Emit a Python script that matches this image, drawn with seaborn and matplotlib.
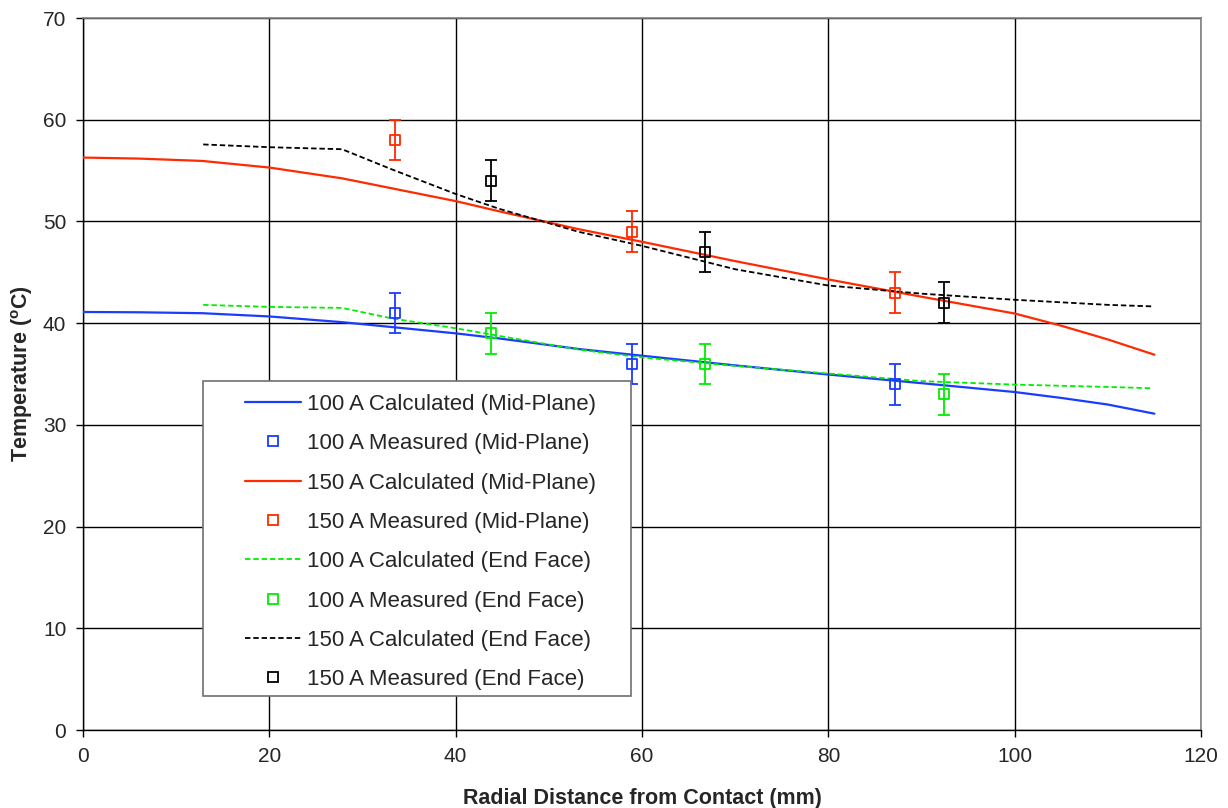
import matplotlib
matplotlib.use("Agg")
import matplotlib.pyplot as plt
from matplotlib.patches import Rectangle
import seaborn as sns
import pandas as pd

# calculated curves
x_mid = [0, 6, 12.8, 20, 27.8, 40, 44.65, 53.2, 60, 70, 80, 90, 100, 105, 110, 115]
t100_mid = [41.1, 41.07, 40.98, 40.66, 40.1, 39.0, 38.5, 37.46, 36.8, 35.85, 34.95, 34.1, 33.23, 32.65, 32.0, 31.1]
t150_mid = [56.28, 56.18, 55.95, 55.3, 54.24, 52.0, 51.0, 49.24, 48.0, 46.1, 44.3, 42.6, 40.95, 39.75, 38.4, 36.9]

x_end = [12.9, 20, 27.8, 33.2, 40, 44.65, 53.2, 60, 70, 80, 90, 100, 110, 114.8]
t100_end = [41.8, 41.6, 41.5, 40.46, 39.5, 38.75, 37.4, 36.63, 35.8, 35.05, 34.3, 33.96, 33.73, 33.6]
t150_end = [57.57, 57.3, 57.1, 55.1, 52.7, 51.25, 48.98, 47.6, 45.3, 43.7, 42.9, 42.3, 41.8, 41.65]

# measured points, +/- 2 degC
x_meas_mid = [33.5, 58.9, 87.2]
m100_mid = [41, 36, 34]
m150_mid = [58, 49, 43]
x_meas_end = [43.8, 66.8, 92.4]
m100_end = [39, 36, 33]
m150_end = [54, 47, 42]
err = 2

blue = "#1a3cff"
red = "#ff2a00"
green = "#00ee00"
black = "#000000"

sns.set_style("white")
plt.rcParams["font.family"] = ["Liberation Sans", "DejaVu Sans"]
plt.rcParams["mathtext.fontset"] = "custom"
plt.rcParams["mathtext.bf"] = "Liberation Sans:bold"
plt.rcParams["mathtext.rm"] = "Liberation Sans"

fig = plt.figure(figsize=(12.28, 8.08), dpi=100)
ax = fig.add_axes([0.0676, 0.0965, 0.9104, 0.8812])

handles = []
labels = []

def calc_line(x, y, color, dashed, label):
    df = pd.DataFrame({"x": x, "y": y})
    ls = (0, (3, 1.6)) if dashed else "-"
    lw = 1.3 if dashed else 1.6
    sns.lineplot(data=df, x="x", y="y", ax=ax, color=color, linewidth=lw,
                 linestyle=ls, zorder=4, legend=False)
    h, = ax.plot([], [], color=color, linewidth=lw, linestyle=ls)
    handles.append(h)
    labels.append(label)

def meas_pts(x, y, color, label):
    ax.errorbar(x, y, yerr=err, fmt="none", ecolor=color, elinewidth=1.3,
                capsize=4.3, capthick=1.3, zorder=5)
    df = pd.DataFrame({"x": x, "y": y})
    sns.scatterplot(data=df, x="x", y="y", ax=ax, marker="s", s=50,
                    facecolor="none", edgecolor=color, linewidth=1.3,
                    zorder=6, legend=False)
    h, = ax.plot([], [], linestyle="none", marker="s", markersize=6.8,
                 markerfacecolor="none", markeredgecolor=color, markeredgewidth=1.3)
    handles.append(h)
    labels.append(label)

calc_line(x_mid, t100_mid, blue, False, "100 A Calculated (Mid-Plane)")
meas_pts(x_meas_mid, m100_mid, blue, "100 A Measured (Mid-Plane)")
calc_line(x_mid, t150_mid, red, False, "150 A Calculated (Mid-Plane)")
meas_pts(x_meas_mid, m150_mid, red, "150 A Measured (Mid-Plane)")
calc_line(x_end, t100_end, green, True, "100 A Calculated (End Face)")
meas_pts(x_meas_end, m100_end, green, "100 A Measured (End Face)")
calc_line(x_end, t150_end, black, True, "150 A Calculated (End Face)")
meas_pts(x_meas_end, m150_end, black, "150 A Measured (End Face)")

ax.set_xlim(0, 120)
ax.set_ylim(0, 70)
ax.set_xticks(range(0, 121, 20))
ax.set_yticks(range(0, 71, 10))
ax.grid(True, color="black", linewidth=1.0)
ax.set_axisbelow(True)
ax.tick_params(direction="out", length=5, width=1, color="black",
               labelsize=15, pad=7, left=True, bottom=True)
for side in ["left", "bottom"]:
    ax.spines[side].set_color("black")
    ax.spines[side].set_linewidth(1.0)
for side in ["top", "right"]:
    ax.spines[side].set_color("#808080")
    ax.spines[side].set_linewidth(1.2)

ax.set_xlabel("Radial Distance from Contact (mm)", fontsize=15.5,
              fontweight="bold")
ax.set_ylabel(r"Temperature ($^{\mathbf{o}}$C)", fontsize=15.5,
              fontweight="bold")
ax.xaxis.set_label_coords(0.5, -0.082)
ax.yaxis.set_label_coords(-0.0427, 0.5)

# legend frame drawn separately so the side padding can be wider than the top
ax.add_patch(Rectangle((0.1073, 0.0478), 0.3828, 0.4424, transform=ax.transAxes,
                       facecolor="white", edgecolor="#6f6f6f", linewidth=1.2,
                       zorder=7))
leg = ax.legend(handles, labels, loc="upper left", bbox_to_anchor=(0.1449, 0.472),
                frameon=False, fontsize=16, borderpad=0, borderaxespad=0,
                handlelength=2.52, handletextpad=0.26, labelspacing=0.824)
leg.set_zorder(8)

fig.savefig("out.png", dpi=100)
